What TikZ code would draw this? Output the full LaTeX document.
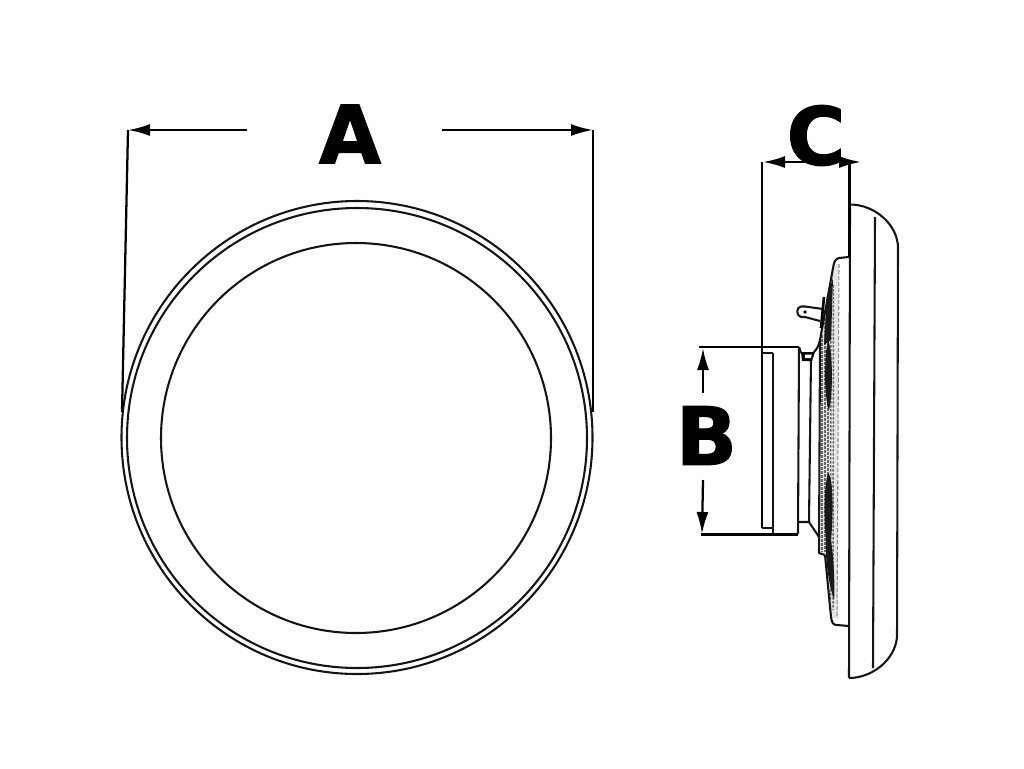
\documentclass[tikz,border=0pt]{standalone}
\usepackage{fontspec}
\setmainfont{DejaVu Sans}
\newfontfamily\heavy[BoldFeatures={FakeBold=1.6}]{DejaVu Sans}
\usetikzlibrary{arrows.meta}
\tikzset{
  ln/.style={line width=1.55pt,black!92,line join=round},
  dim/.style={line width=1.7pt,black},
  tip/.style={-{Latex[length=16.5pt,width=9pt]}},
  letter/.style={inner sep=0pt,font=\heavy\fontsize{60pt}{60pt}\bfseries,text=black},
  faint/.style={line width=.8pt,black!45,dash pattern=on 3pt off 1.5pt},
  hatchln/.style={line width=1.1pt,black!60,dash pattern=on 2pt off 1pt},
  blob/.style={fill=black!90,draw=none}
}
\begin{document}
\begin{tikzpicture}[x=0.75pt,y=-0.75pt]
\useasboundingbox (0,0) rectangle (1024,768);
% --- front view
\draw[ln] (357,437.5) ellipse [x radius=235.5,y radius=236.5];
\draw[ln] (357,438) ellipse [x radius=230,y radius=230];
\draw[ln] (356,438) ellipse [x radius=195,y radius=195];
% --- dimension A
\node[letter] (la) at (350,134) {A};
\coordinate (al) at (128,130);
\coordinate (ar) at (593,130);
\coordinate (alf) at (247,130);
\coordinate (arf) at (442,130);
\coordinate (alb) at (122,412);
\coordinate (arb) at (593,412);
\draw[dim,tip] (alf) -- (al);
\draw[dim,tip] (arf) -- (ar);
\draw[dim] (al) -- (alb);
\draw[dim] (ar) -- (arb);
% --- side view: speckled shading of the housing
\fill[black!10] (820,340) -- (834,264) -- (839,264) -- (838,618) -- (831,618) -- (825,555) -- (819,552) -- cycle;
\draw[hatchln] (822,335) -- (822,552);
\draw[hatchln] (825,318) -- (825,552);
\draw[hatchln] (828,300) -- (828,560);
\draw[hatchln] (831,285) -- (830.5,600);
\draw[hatchln] (833.5,285) -- (833,610);
\fill[blob] (827,296) -- (833,278) -- (831,340) -- (824,345) -- cycle;
\fill[blob] (828,340) .. controls (833,350) and (833,395) .. (829,410) .. controls (824,400) and (824,355) .. (828,340) -- cycle;
\fill[blob] (828,473) .. controls (834,478) and (833,520) .. (831,540) .. controls (834,560) and (835,590) .. (834,600) .. controls (829,585) and (825,560) .. (826,540) .. controls (824,520) and (824,485) .. (828,473) -- cycle;
\draw[faint] (839,264) -- (837,618);
% --- side view: cap
\draw[ln] (850,204.5) .. controls (875,204.5) and (898,225) .. (898,248)
  -- (897,637) .. controls (895,660) and (872,678) .. (849,678);
\draw[ln] (850,204.5) -- (849,678);
\draw[ln] (875,217) -- (873,668);
% --- side view: housing
\draw[ln] (849,257) -- (839,258) .. controls (835,259) and (834,262) .. (833,268) -- (820,340) -- (819,553) -- (825,555);
\draw[ln] (825,555) -- (831,617) .. controls (832,623) and (833,625) .. (837,625) -- (849,626);
% --- side view: plate and neck
\draw[ln] (799,347) -- (798,534);
\draw[ln] (762,528) -- (773,528);
\draw[ln] (762,353) -- (773,353);
\draw[ln] (773,353) -- (773,534);
\draw[ln] (798,522) -- (809,522) -- (819,537);
\draw[ln] (811,358) -- (809,522);
\fill[black] (801,352) -- (815,352) -- (812,361) -- (802,361) -- cycle;
\fill[white] (805,354.5) -- (812,354.5) -- (810.5,358) -- (805,358) -- cycle;
\draw[ln] (814,352) .. controls (817,349) and (819,345) .. (820,340);
\draw[ln] (799,347) -- (801,353);
% --- side view: terminal
\draw[ln] (823,309) -- (805,306.5) -- (801,306.5) .. controls (796,307) and (796,316) .. (801,317) -- (805,317) -- (820,321);
\fill[black] (805,312) circle [radius=1.8];
\draw[line width=2pt] (824,297) -- (821,328);
% --- dimension B
\node[letter] (lb) at (706.5,435.5) {B};
\coordinate (bt) at (703,348);
\coordinate (bb) at (702,534);
\coordinate (btf) at (703,393);
\coordinate (bbf) at (703,480);
\draw[dim] (698.5,347) -- (799,347);
\draw[dim] (701,534.5) -- (798,534.5);
\draw[dim,tip] (btf) -- (bt);
\draw[dim,tip] (bbf) -- (bb);
% --- dimension C
\node[letter] (lc) at (816,135.5) {C};
\coordinate (cl) at (763,162);
\coordinate (cr) at (861,162);
\coordinate (cm) at (815,162);
\draw[dim,tip] (cm) -- (cl);
\draw[dim,tip] (cm) -- (cr);
\draw[dim] (762,162) -- (762,528);
\draw[dim] (849.5,162) -- (849.5,257);
\end{tikzpicture}
\end{document}
